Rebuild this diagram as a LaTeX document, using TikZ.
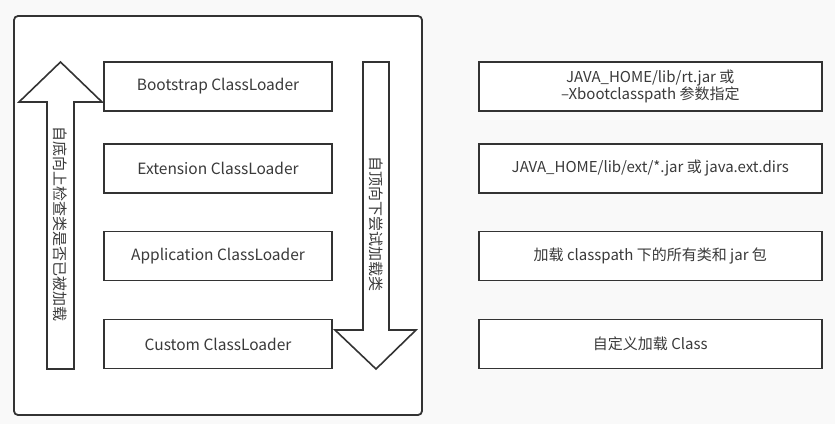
\documentclass[tikz,border=0pt]{standalone}
\usepackage{fontspec}
\setmainfont{Noto Sans CJK SC}
\usetikzlibrary{positioning}

\definecolor{linegray}{HTML}{333333}
\definecolor{textgray}{HTML}{3A3A3A}
\definecolor{bggray}{HTML}{F9F9F9}

\tikzset{
  loader/.style={draw=linegray, line width=1.8pt, fill=white, minimum width=228pt, minimum height=49pt, inner sep=0pt, text=textgray, font=\fontsize{15.5}{17}\selectfont},
  pathbox/.style={draw=linegray, line width=1.8pt, fill=white, minimum width=343pt, minimum height=49pt, inner sep=0pt, align=center, text=textgray, font=\fontsize{15}{17}\selectfont},
  bigarrow/.style={draw=linegray, line width=1.6pt, fill=white, line join=miter},
  sidetext/.style={rotate=-90, inner sep=0pt, text=textgray, font=\fontsize{15}{17}\selectfont}
}

\begin{document}
\begin{tikzpicture}[x=1pt, y=-1pt]
\fill[bggray] (0,0) rectangle (835,424);
\useasboundingbox (0,0) rectangle (835,424);
% outer frame
\draw[linegray, line width=1.8pt, rounded corners=4pt, fill=white] (14,16) rectangle (422,415);

% class loaders
\node [loader] (boot) at (218,86.5) {Bootstrap ClassLoader};
\node [loader] (ext) at (218,168.5) {Extension ClassLoader};
\node [loader] (app) at (218,256) {Application ClassLoader};
\node [loader] (custom) at (218,344) {Custom ClassLoader};

% what each one loads
\node [pathbox, right=145pt of boot] (bootpath) {JAVA\_HOME/lib/rt.jar 或\\--Xbootclasspath 参数指定};
\node [pathbox, right=145pt of ext] (extpath) {JAVA\_HOME/lib/ext/*.jar 或 java.ext.dirs};
\node [pathbox, right=145pt of app] (apppath) {加载 classpath 下的所有类和 jar 包};
\node [pathbox, right=145pt of custom] (custompath) {自定义加载 Class};

% bottom-up check
\draw[bigarrow] (47,369) -- (47,102) -- (19,102) -- (60.5,62) -- (102,102) -- (74,102) -- (74,369) -- cycle;
\node [sidetext] (uptext) at (60.5,224) {自底向上检查类是否已被加载};

% top-down load
\draw[bigarrow] (363,62) -- (389,62) -- (389,330) -- (416,330) -- (376,369) -- (335,330) -- (363,330) -- cycle;
\node [sidetext] (downtext) at (376,224) {自顶向下尝试加载类};
\end{tikzpicture}
\end{document}
